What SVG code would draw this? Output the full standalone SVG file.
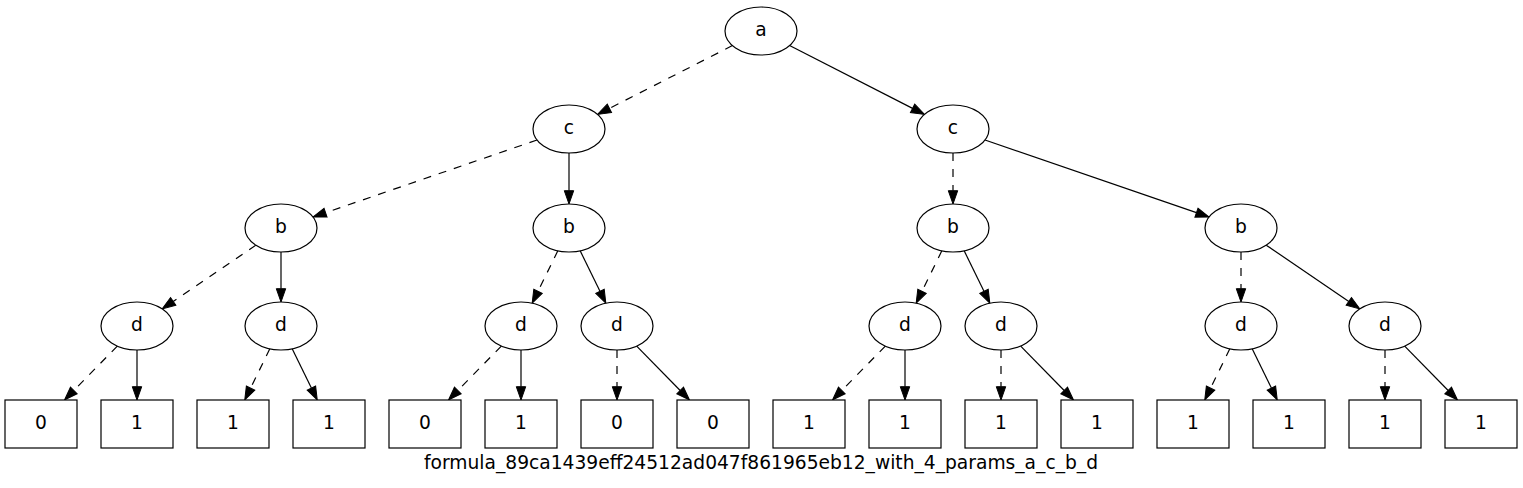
<svg xmlns="http://www.w3.org/2000/svg" width="1523" height="488" viewBox="0 0 1523 488">
<style>
.n ellipse, .n rect { fill: #fff; stroke: #000; stroke-width: 1.2; }
.n text, .lbl { font-family: "DejaVu Sans", "Liberation Sans", sans-serif; font-size: 18.67px; fill: #000; text-anchor: middle; }
.e line { stroke: #000; stroke-width: 1.2; fill: none; marker-end: url(#arr); }
.e line.d { stroke-dasharray: 8 8; }
</style>
<defs>
<marker id="arr" markerUnits="userSpaceOnUse" markerWidth="14" markerHeight="10" refX="0" refY="4.7" orient="auto" overflow="visible">
<path d="M0,0 L13.3,4.7 L0,9.4 Z" fill="#000" stroke="#000" stroke-width="1"/>
</marker>
</defs>
<rect width="1523" height="488" fill="#fff"/>
<g id="edges" class="e">
<line class="d" x1="732.42" y1="45.59" x2="609.43" y2="108.36"/>
<line x1="789.58" y1="45.59" x2="912.57" y2="108.36"/>
<line class="d" x1="537.01" y1="140" x2="325.57" y2="212.68"/>
<line x1="569" y1="153" x2="569" y2="190.7"/>
<line class="d" x1="953" y1="153" x2="953" y2="190.7"/>
<line x1="984.99" y1="140" x2="1196.43" y2="212.68"/>
<line class="d" x1="255.81" y1="245.14" x2="173.19" y2="301.38"/>
<line x1="281" y1="252" x2="281" y2="288.7"/>
<line class="d" x1="557.83" y1="250.81" x2="538.02" y2="291.25"/>
<line x1="580.17" y1="250.81" x2="599.98" y2="291.25"/>
<line class="d" x1="941.83" y1="250.81" x2="922.02" y2="291.25"/>
<line x1="964.17" y1="250.81" x2="983.98" y2="291.25"/>
<line class="d" x1="1241" y1="252" x2="1241" y2="288.7"/>
<line x1="1266.19" y1="245.14" x2="1348.81" y2="301.38"/>
<line class="d" x1="117.31" y1="346.09" x2="73.82" y2="390.5"/>
<line x1="137" y1="350" x2="137" y2="386.7"/>
<line class="d" x1="269.83" y1="348.81" x2="250.6" y2="388.06"/>
<line x1="292.17" y1="348.81" x2="311.4" y2="388.06"/>
<line class="d" x1="501.31" y1="346.09" x2="457.82" y2="390.5"/>
<line x1="521" y1="350" x2="521" y2="386.7"/>
<line class="d" x1="617" y1="350" x2="617" y2="386.7"/>
<line x1="636.69" y1="346.09" x2="680.18" y2="390.5"/>
<line class="d" x1="885.31" y1="346.09" x2="841.82" y2="390.5"/>
<line x1="905" y1="350" x2="905" y2="386.7"/>
<line class="d" x1="1001" y1="350" x2="1001" y2="386.7"/>
<line x1="1020.69" y1="346.09" x2="1064.18" y2="390.5"/>
<line class="d" x1="1229.83" y1="348.81" x2="1210.6" y2="388.06"/>
<line x1="1252.17" y1="348.81" x2="1271.4" y2="388.06"/>
<line class="d" x1="1385" y1="350" x2="1385" y2="386.7"/>
<line x1="1404.69" y1="346.09" x2="1448.18" y2="390.5"/>
</g>
<g id="n_a" class="n"><ellipse cx="761" cy="31" rx="36" ry="24"/><text x="761" y="36">a</text></g>
<g id="n_c1" class="n"><ellipse cx="569" cy="129" rx="36" ry="24"/><text x="569" y="134.3">c</text></g>
<g id="n_c2" class="n"><ellipse cx="953" cy="129" rx="36" ry="24"/><text x="953" y="134.3">c</text></g>
<g id="n_b1" class="n"><ellipse cx="281" cy="228" rx="36" ry="24"/><text x="281" y="233.3">b</text></g>
<g id="n_b2" class="n"><ellipse cx="569" cy="228" rx="36" ry="24"/><text x="569" y="233.3">b</text></g>
<g id="n_b3" class="n"><ellipse cx="953" cy="228" rx="36" ry="24"/><text x="953" y="233.3">b</text></g>
<g id="n_b4" class="n"><ellipse cx="1241" cy="228" rx="36" ry="24"/><text x="1241" y="233.3">b</text></g>
<g id="n_d1" class="n"><ellipse cx="137" cy="326" rx="36" ry="24"/><text x="137" y="331.3">d</text></g>
<g id="n_d2" class="n"><ellipse cx="281" cy="326" rx="36" ry="24"/><text x="281" y="331.3">d</text></g>
<g id="n_d3" class="n"><ellipse cx="521" cy="326" rx="36" ry="24"/><text x="521" y="331.3">d</text></g>
<g id="n_d4" class="n"><ellipse cx="617" cy="326" rx="36" ry="24"/><text x="617" y="331.3">d</text></g>
<g id="n_d5" class="n"><ellipse cx="905" cy="326" rx="36" ry="24"/><text x="905" y="331.3">d</text></g>
<g id="n_d6" class="n"><ellipse cx="1001" cy="326" rx="36" ry="24"/><text x="1001" y="331.3">d</text></g>
<g id="n_d7" class="n"><ellipse cx="1241" cy="326" rx="36" ry="24"/><text x="1241" y="331.3">d</text></g>
<g id="n_d8" class="n"><ellipse cx="1385" cy="326" rx="36" ry="24"/><text x="1385" y="331.3">d</text></g>
<g id="t1" class="n"><rect x="5" y="400" width="72" height="48"/><text x="41" y="429.3">0</text></g>
<g id="t2" class="n"><rect x="101" y="400" width="72" height="48"/><text x="137" y="429.3">1</text></g>
<g id="t3" class="n"><rect x="197" y="400" width="72" height="48"/><text x="233" y="429.3">1</text></g>
<g id="t4" class="n"><rect x="293" y="400" width="72" height="48"/><text x="329" y="429.3">1</text></g>
<g id="t5" class="n"><rect x="389" y="400" width="72" height="48"/><text x="425" y="429.3">0</text></g>
<g id="t6" class="n"><rect x="485" y="400" width="72" height="48"/><text x="521" y="429.3">1</text></g>
<g id="t7" class="n"><rect x="581" y="400" width="72" height="48"/><text x="617" y="429.3">0</text></g>
<g id="t8" class="n"><rect x="677" y="400" width="72" height="48"/><text x="713" y="429.3">0</text></g>
<g id="t9" class="n"><rect x="773" y="400" width="72" height="48"/><text x="809" y="429.3">1</text></g>
<g id="t10" class="n"><rect x="869" y="400" width="72" height="48"/><text x="905" y="429.3">1</text></g>
<g id="t11" class="n"><rect x="965" y="400" width="72" height="48"/><text x="1001" y="429.3">1</text></g>
<g id="t12" class="n"><rect x="1061" y="400" width="72" height="48"/><text x="1097" y="429.3">1</text></g>
<g id="t13" class="n"><rect x="1157" y="400" width="72" height="48"/><text x="1193" y="429.3">1</text></g>
<g id="t14" class="n"><rect x="1253" y="400" width="72" height="48"/><text x="1289" y="429.3">1</text></g>
<g id="t15" class="n"><rect x="1349" y="400" width="72" height="48"/><text x="1385" y="429.3">1</text></g>
<g id="t16" class="n"><rect x="1445" y="400" width="72" height="48"/><text x="1481" y="429.3">1</text></g>
<text class="lbl" x="761" y="468.5">formula_89ca1439eff24512ad047f861965eb12_with_4_params_a_c_b_d</text>
</svg>
